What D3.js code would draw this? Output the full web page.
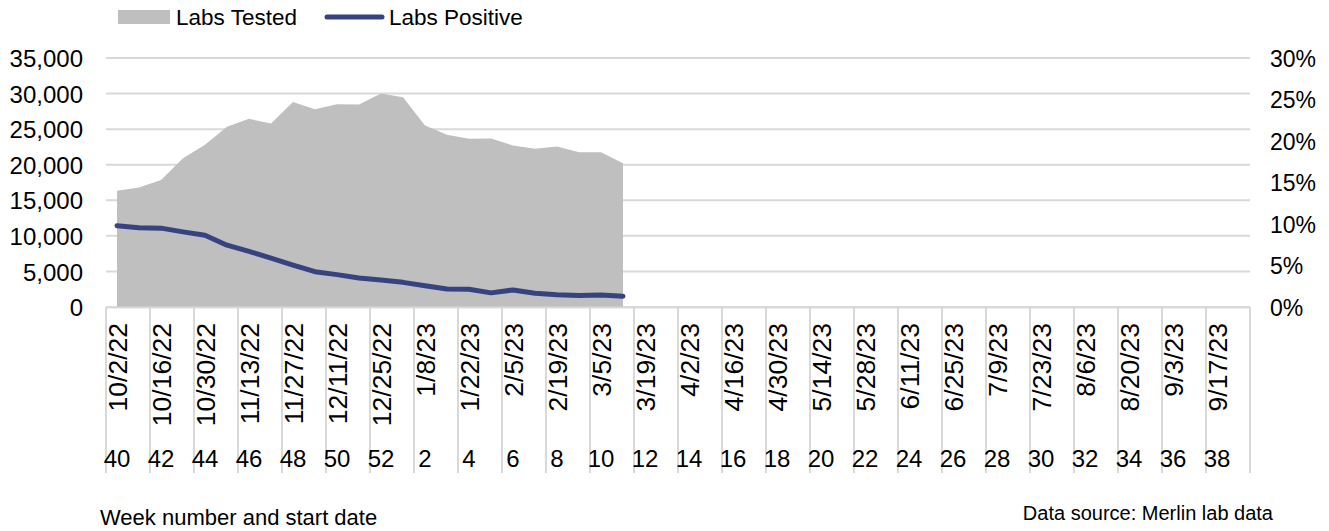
<!DOCTYPE html>
<html>
<head>
<meta charset="utf-8">
<script src="https://cdn.jsdelivr.net/npm/d3@7"></script>
<style>
  body { margin: 0; background: #fff; }
  svg text { font-family: "Liberation Sans", Arial, sans-serif; fill: #000; }
</style>
</head>
<body>
<svg width="1329" height="531"></svg>
<script>
// week numbers and start dates for the flu season (52 weeks)
let weeks = [40, 41, 42, 43, 44, 45, 46, 47, 48, 49, 50, 51, 52,
  1, 2, 3, 4, 5, 6, 7, 8, 9, 10, 11, 12, 13, 14, 15, 16, 17, 18, 19, 20,
  21, 22, 23, 24, 25, 26, 27, 28, 29, 30, 31, 32, 33, 34, 35, 36, 37, 38, 39];
let startDates = ['10/2/22', '10/9/22', '10/16/22', '10/23/22', '10/30/22', '11/6/22',
  '11/13/22', '11/20/22', '11/27/22', '12/4/22', '12/11/22', '12/18/22', '12/25/22',
  '1/1/23', '1/8/23', '1/15/23', '1/22/23', '1/29/23', '2/5/23', '2/12/23', '2/19/23',
  '2/26/23', '3/5/23', '3/12/23', '3/19/23', '3/26/23', '4/2/23', '4/9/23', '4/16/23',
  '4/23/23', '4/30/23', '5/7/23', '5/14/23', '5/21/23', '5/28/23', '6/4/23', '6/11/23',
  '6/18/23', '6/25/23', '7/2/23', '7/9/23', '7/16/23', '7/23/23', '7/30/23', '8/6/23',
  '8/13/23', '8/20/23', '8/27/23', '9/3/23', '9/10/23', '9/17/23', '9/24/23'];

// only weeks 40 .. 11 have data so far
let labsTested = [16350, 16800, 17850, 20900, 22800, 25350, 26450, 25800, 28800, 27800,
  28500, 28450, 30000, 29500, 25500, 24200, 23650, 23700, 22700, 22250, 22550, 21750,
  21750, 20200];
let pctPositive = [9.8, 9.55, 9.5, 9.05, 8.65, 7.45, 6.7, 5.9, 5.05, 4.25, 3.9, 3.5,
  3.25, 2.97, 2.57, 2.17, 2.13, 1.7, 2.05, 1.65, 1.47, 1.38, 1.45, 1.3];

let leftTicks = [0, 5000, 10000, 15000, 20000, 25000, 30000, 35000];
let rightTicks = [0, 5, 10, 15, 20, 25, 30];

let svg = d3.select('svg');
let grid = '#d9d9d9';

let x = d3.scaleBand().domain(d3.range(weeks.length)).range([106, 1250]);
let cx = i => x(i) + x.bandwidth() / 2;
let y = d3.scaleLinear().domain([0, 35000]).range([307, 58]);
let y2 = d3.scaleLinear().domain([0, 30]).range([307, 58]);

// horizontal gridlines
svg.append('g')
  .selectAll('line')
  .data(leftTicks)
  .join('line')
  .attr('x1', 106).attr('x2', 1250)
  .attr('y1', d => y(d)).attr('y2', d => y(d))
  .attr('stroke', grid)
  .attr('stroke-width', 2);

// left axis
let yAxis = svg.append('g')
  .attr('transform', 'translate(83,0)')
  .call(d3.axisLeft(y).tickValues(leftTicks).tickSize(0).tickPadding(0).tickFormat(d3.format(',')));
yAxis.select('.domain').remove();
yAxis.selectAll('text').style('font-size', '24px').attr('dy', '0.36em');

// right axis
let yAxis2 = svg.append('g')
  .attr('transform', 'translate(1270,0)')
  .call(d3.axisRight(y2).tickValues(rightTicks).tickSize(0).tickPadding(0).tickFormat(d => d + '%'));
yAxis2.select('.domain').remove();
yAxis2.selectAll('text').style('font-size', '23px').attr('dy', '0.36em');

// area for labs tested
svg.append('path')
  .datum(labsTested)
  .attr('fill', '#bfbfbf')
  .attr('d', d3.area()
    .x((d, i) => cx(i))
    .y0(y(0))
    .y1(d => y(d)));

// category axis: boundary lines every two weeks
let bounds = d3.range(0, weeks.length + 1, 2);
svg.append('g')
  .selectAll('line')
  .data(bounds)
  .join('line')
  .attr('x1', d => d < weeks.length ? x(d) : x.range()[1])
  .attr('x2', d => d < weeks.length ? x(d) : x.range()[1])
  .attr('y1', 307).attr('y2', 473)
  .attr('stroke', grid)
  .attr('stroke-width', 2);

svg.append('line')
  .attr('x1', 106).attr('x2', 1250)
  .attr('y1', 307.5).attr('y2', 307.5)
  .attr('stroke', grid)
  .attr('stroke-width', 2);

// line for percent positive
svg.append('path')
  .datum(pctPositive)
  .attr('fill', 'none')
  .attr('stroke', '#374281')
  .attr('stroke-width', 5)
  .attr('stroke-linecap', 'round')
  .attr('stroke-linejoin', 'round')
  .attr('d', d3.line()
    .x((d, i) => cx(i))
    .y(d => y2(d)));

let shown = d3.range(0, weeks.length, 2);

// start dates (rotated)
svg.append('g')
  .selectAll('text')
  .data(shown)
  .join('text')
  .attr('transform', i => `translate(${cx(i)},323) rotate(-90)`)
  .attr('text-anchor', 'end')
  .attr('dy', '0.36em')
  .style('font-size', '26.5px')
  .text(i => startDates[i]);

// week numbers
svg.append('g')
  .selectAll('text')
  .data(shown)
  .join('text')
  .attr('x', i => cx(i))
  .attr('y', 467)
  .attr('text-anchor', 'middle')
  .style('font-size', '24px')
  .text(i => weeks[i]);

// legend
let legend = svg.append('g');
legend.append('rect')
  .attr('x', 118).attr('y', 10).attr('width', 52).attr('height', 14)
  .attr('fill', '#bfbfbf');
legend.append('text')
  .attr('x', 176).attr('y', 25)
  .style('font-size', '22.5px')
  .text('Labs Tested');
legend.append('line')
  .attr('x1', 327).attr('x2', 382)
  .attr('y1', 17).attr('y2', 17)
  .attr('stroke', '#374281')
  .attr('stroke-width', 5)
  .attr('stroke-linecap', 'round');
legend.append('text')
  .attr('x', 389).attr('y', 25)
  .style('font-size', '22.5px')
  .text('Labs Positive');

// footer notes
svg.append('text')
  .attr('x', 100).attr('y', 525)
  .style('font-size', '22px')
  .text('Week number and start date');
svg.append('text')
  .attr('x', 1273).attr('y', 520)
  .attr('text-anchor', 'end')
  .style('font-size', '20px')
  .text('Data source: Merlin lab data');
</script>
</body>
</html>
